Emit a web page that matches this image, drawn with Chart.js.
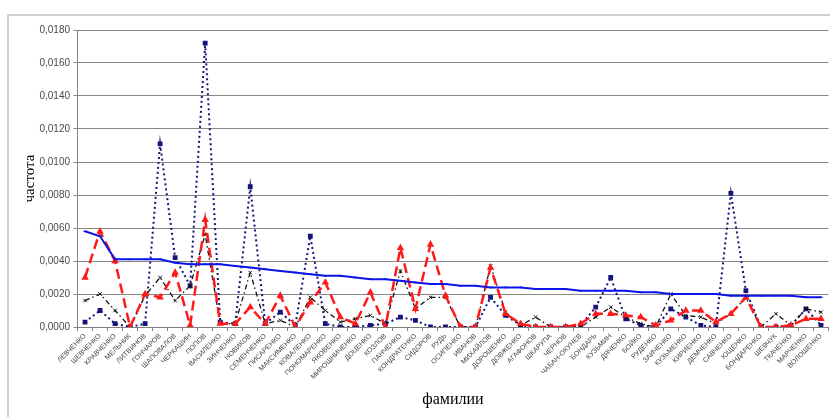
<!DOCTYPE html>
<html>
<head>
<meta charset="utf-8">
<script src="https://cdn.jsdelivr.net/npm/chart.js@4/dist/chart.umd.min.js"></script>
<style>
  html, body { margin: 0; padding: 0; background: #fff; overflow: hidden; width: 830px; height: 417px; }
  #frame { position: absolute; left: 7px; top: 14px; width: 840px; height: 403px;
           border-left: 2px solid #cfcfcf; border-top: 2px solid #cfcfcf; background: #fff; }
  #wrap { position: absolute; left: 0; top: 0; width: 826px; height: 403px; }
</style>
</head>
<body>
<div id="frame"><div id="wrap"><canvas id="c"></canvas></div></div>
<script>
// Surnames along the category axis
const surnames = [
  'ЛЕВЧЕНКО', 'ШЕВЧЕНКО', 'КРАВЧЕНКО', 'МЕЛЬНИК', 'ЛИТВИНОВ', 'ГОНЧАРОВ', 'ШАПОВАЛОВ', 'ЧЕРКАШИН', 'ПОПОВ', 'ВАСИЛЕНКО',
  'ЗИНЧЕНКО', 'НОВИКОВ', 'СЕМЕНЧЕНКО', 'ПИСАРЕНКО', 'МАКСИМЕНКО', 'КОВАЛЕНКО', 'ПОНОМАРЕНКО', 'ЯКОВЕНКО', 'МИРОШНИЧЕНКО', 'ДОЦЕНКО',
  'КОЗЛОВ', 'ПАНЧЕНКО', 'КОНДРАТЕНКО', 'СИДОРОВ', 'РУДЬ', 'ОСИПЕНКО', 'ИВАНОВ', 'МИХАЙЛОВ', 'ДОРОШЕНКО', 'ДОВЖЕНКО',
  'АГАФОНОВ', 'ШКАРУПА', 'ЧЕРНОВ', 'ЧАБАН-ОКУНЕВ', 'БОНДАРЬ', 'КУЗЬМИН', 'ДЯЧЕНКО', 'БОЙКО', 'РУДЕНКО', 'ЗАИЧЕНКО',
  'КУЗЬМЕНКО', 'КИРИЕНКО', 'ДЕМЧЕНКО', 'САВЧЕНКО', 'ЮЩЕНКО', 'БОНДАРЕНКО', 'ШЕВЧУК', 'ТКАЧЕНКО', 'МАРЧЕНКО', 'ВОЛОШЕНКО'
];

// Frequencies per surname, one array per series
const freqNavy = [
  0.0003, 0.0010, 0.0002, 0.0000, 0.0002, 0.0111, 0.0042, 0.0025, 0.0172, 0.0003,
  0.0002, 0.0085, 0.0002, 0.0009, 0.0001, 0.0055, 0.0002, 0.0000, 0.0000, 0.0001,
  0.0002, 0.0006, 0.0004, 0.0000, 0.0000, 0.0000, 0.0000, 0.0018, 0.0007, 0.0001,
  0.0000, 0.0000, 0.0000, 0.0001, 0.0012, 0.0030, 0.0005, 0.0001, 0.0000, 0.0011,
  0.0006, 0.0001, 0.0000, 0.0081, 0.0022, 0.0000, 0.0000, 0.0001, 0.0011, 0.0001
];
const freqRed = [
  0.0030, 0.0058, 0.0040, 0.0000, 0.0020, 0.0018, 0.0033, 0.0001, 0.0065, 0.0002,
  0.0002, 0.0012, 0.0002, 0.0019, 0.0000, 0.0015, 0.0027, 0.0006, 0.0002, 0.0021,
  0.0000, 0.0048, 0.0011, 0.0050, 0.0019, 0.0000, 0.0000, 0.0036, 0.0008, 0.0002,
  0.0000, 0.0000, 0.0000, 0.0002, 0.0008, 0.0008, 0.0007, 0.0006, 0.0001, 0.0004,
  0.0010, 0.0010, 0.0003, 0.0008, 0.0018, 0.0000, 0.0000, 0.0001, 0.0005, 0.0005
];
const freqBlack = [
  0.0016, 0.0020, 0.0010, 0.0000, 0.0019, 0.0030, 0.0016, 0.0025, 0.0056, 0.0002,
  0.0002, 0.0033, 0.0002, 0.0004, 0.0000, 0.0018, 0.0010, 0.0003, 0.0005, 0.0007,
  0.0002, 0.0034, 0.0011, 0.0018, 0.0018, 0.0000, 0.0000, 0.0037, 0.0009, 0.0001,
  0.0006, 0.0000, 0.0000, 0.0000, 0.0006, 0.0012, 0.0006, 0.0002, 0.0000, 0.0020,
  0.0007, 0.0006, 0.0002, 0.0008, 0.0018, 0.0000, 0.0008, 0.0001, 0.0011, 0.0009
];
const freqBlue = [
  0.0058, 0.0055, 0.0041, 0.0041, 0.0041, 0.0041, 0.0039, 0.0038, 0.0038, 0.0038,
  0.0037, 0.0036, 0.0035, 0.0034, 0.0033, 0.0032, 0.0031, 0.0031, 0.0030, 0.0029,
  0.0029, 0.0028, 0.0027, 0.0026, 0.0026, 0.0025, 0.0025, 0.0024, 0.0024, 0.0024,
  0.0023, 0.0023, 0.0023, 0.0022, 0.0022, 0.0022, 0.0022, 0.0021, 0.0021, 0.0020,
  0.0020, 0.0020, 0.0020, 0.0019, 0.0019, 0.0019, 0.0019, 0.0019, 0.0018, 0.0018
];

// Value axis ticks
const yTickValues = [0, 0.002, 0.004, 0.006, 0.008, 0.010, 0.012, 0.014, 0.016, 0.018];

new Chart(document.getElementById('c'), {
  type: 'line',
  data: {
    labels: surnames,
    datasets: [
      { data: freqBlue, borderColor: '#0a14e8', borderWidth: 2,
        pointStyle: 'line', pointRadius: 1.5, pointBorderColor: '#0a14e8', pointBorderWidth: 1.5, order: 0 },
      { data: freqRed, borderColor: '#ff1a1a', borderWidth: 2.5, borderDash: [10, 5],
        pointStyle: 'triangle', pointRadius: 1.8, pointBackgroundColor: '#ff1a1a', pointBorderColor: '#ff1a1a', order: 1 },
      { data: freqBlack, borderColor: '#111', borderWidth: 1.3, borderDash: [5, 3, 1.5, 3],
        pointStyle: 'crossRot', pointRadius: 2.5, pointBorderColor: '#111', pointBorderWidth: 1, order: 2 },
      { data: freqNavy, borderColor: '#14147a', borderWidth: 2, borderDash: [2, 3],
        pointStyle: 'rect', pointRadius: 2, pointBackgroundColor: '#14147a', pointBorderColor: '#14147a', order: 3 }
    ]
  },
  options: {
    responsive: true,
    maintainAspectRatio: false,
    animation: false,
    devicePixelRatio: 1,
    layout: { padding: { top: 14, right: 0, bottom: 0, left: 0 } },
    plugins: { legend: { display: false }, tooltip: { enabled: false } },
    elements: { line: { tension: 0, fill: false } },
    scales: {
      x: {
        offset: true,
        grid: { drawOnChartArea: false, drawTicks: true, tickLength: 4, color: '#808080', offset: true },
        border: { color: '#808080', width: 1 },
        ticks: { autoSkip: false, maxRotation: 45, minRotation: 45, padding: 1, color: '#444',
                 font: { family: 'Liberation Sans, Arial', size: 7 } },
        title: { display: true, text: 'фамилии', color: '#000',
                 font: { family: 'Liberation Serif, Times New Roman', size: 16 }, padding: { top: 0, bottom: 10 } },
        afterFit: s => { s.height = 92; }
      },
      y: {
        min: 0, max: 0.018,
        afterBuildTicks: s => { s.ticks = yTickValues.map(v => ({ value: v })); },
        grid: { color: '#878787', lineWidth: 1, tickLength: 4, drawTicks: true },
        border: { color: '#808080', width: 1 },
        ticks: { padding: 3.5, color: '#4a4a4a', font: { family: 'Liberation Sans, Arial', size: 10 },
                 callback: v => Number(v).toFixed(4).replace('.', ',') },
        title: { display: true, text: 'частота', color: '#000',
                 font: { family: 'Liberation Serif, Times New Roman', size: 15 }, padding: { top: 12, bottom: 0 } },
        afterFit: s => { s.width = 68.5; }
      }
    }
  }
});
</script>
</body>
</html>
